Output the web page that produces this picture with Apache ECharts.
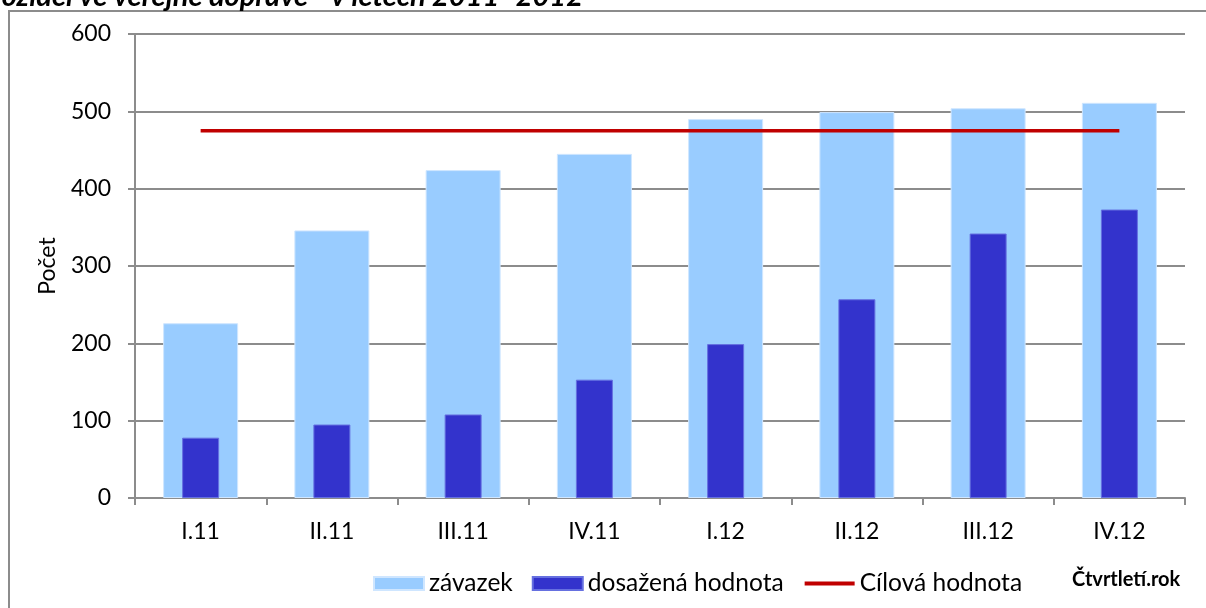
<!DOCTYPE html>
<html>
<head>
<meta charset="utf-8">
<script src="https://cdn.jsdelivr.net/npm/echarts@6/dist/echarts.min.js"></script>
<style>
  html, body { margin: 0; padding: 0; background: #fff; }
  #chart { width: 1206px; height: 608px; }
</style>
</head>
<body>
<div id="chart"></div>
<script>
// ctvrtleti
const categories = ['I.11', 'II.11', 'III.11', 'IV.11', 'I.12', 'II.12', 'III.12', 'IV.12']
const zavazek = [226, 346, 424, 445, 490, 499, 504, 511]
const dosazena = [78, 95, 108, 153, 199, 257, 342, 373]
const cilova = [475, 475, 475, 475, 475, 475, 475, 475]
const yTicks = [0, 100, 200, 300, 400, 500, 600]

const font = 'Lato, "Open Sans", sans-serif'
const gray = '#8c8c8c'

let myChart = echarts.init(document.getElementById('chart'))
myChart.setOption({
  animation: false,
  backgroundColor: '#fff',
  grid: {
    left: 135,
    right: 21,
    top: 34,
    bottom: 110
  },
  legend: {
    left: 368,
    top: 566,
    itemWidth: 50,
    itemHeight: 13,
    itemGap: 19,
    textStyle: { fontFamily: font, fontSize: 24.5, color: '#000' },
    data: [
      { name: 'závazek', icon: 'rect' },
      { name: 'dosažená hodnota', icon: 'rect' },
      { name: 'Cílová hodnota', itemStyle: { opacity: 0 }, lineStyle: { width: 4 } }
    ]
  },
  xAxis: [
    {
      type: 'category',
      data: categories,
      axisLine: { lineStyle: { color: gray, width: 2 } },
      axisTick: { show: true, length: 7, lineStyle: { color: gray, width: 2 } },
      axisLabel: { margin: 22, fontFamily: font, fontSize: 23, color: '#000' },
      splitLine: { show: false }
    },
    {
      type: 'category',
      data: categories,
      show: false
    }
  ],
  yAxis: {
    type: 'value',
    min: yTicks[0],
    max: yTicks[yTicks.length - 1],
    interval: 100,
    name: 'Počet',
    nameLocation: 'middle',
    nameGap: 76,
    nameTextStyle: { fontFamily: font, fontSize: 23, color: '#000' },
    axisLine: { show: true, lineStyle: { color: gray, width: 2 } },
    axisTick: { show: true, length: 7, lineStyle: { color: gray, width: 2 } },
    axisLabel: { margin: 24, fontFamily: font, fontSize: 23, color: '#000' },
    splitLine: { show: true, lineStyle: { color: gray, width: 2 } }
  },
  graphic: [
    {
      type: 'rect',
      silent: true,
      shape: { x: 9, y: 11, width: 1300, height: 700 },
      style: { fill: 'none', stroke: gray, lineWidth: 2 }
    },
    {
      type: 'text',
      silent: true,
      x: 583,
      y: 11,
      style: {
        text: 'vozidel ve veřejné dopravě - v letech 2011- 2012',
        font: 'italic bold 29px ' + font,
        fill: '#000',
        align: 'right',
        verticalAlign: 'bottom'
      }
    },
    {
      type: 'text',
      silent: true,
      x: 1072,
      y: 580,
      style: {
        text: 'Čtvrtletí.rok',
        font: 'bold 20px ' + font,
        fill: '#000',
        align: 'left',
        verticalAlign: 'middle'
      }
    }
  ],
  series: [
    {
      name: 'závazek',
      type: 'bar',
      xAxisIndex: 0,
      barWidth: 75,
      data: zavazek,
      itemStyle: { color: '#99ccff', borderColor: '#cfe6ff', borderWidth: 1 }
    },
    {
      name: 'dosažená hodnota',
      type: 'bar',
      xAxisIndex: 1,
      barWidth: 37,
      data: dosazena,
      itemStyle: { color: '#3333cc', borderColor: '#6670e0', borderWidth: 1 }
    },
    {
      name: 'Cílová hodnota',
      type: 'line',
      xAxisIndex: 0,
      symbol: 'none',
      data: cilova,
      lineStyle: { color: '#c00000', width: 3.5 },
      itemStyle: { color: '#c00000' },
      z: 5
    }
  ]
})
</script>
</body>
</html>
